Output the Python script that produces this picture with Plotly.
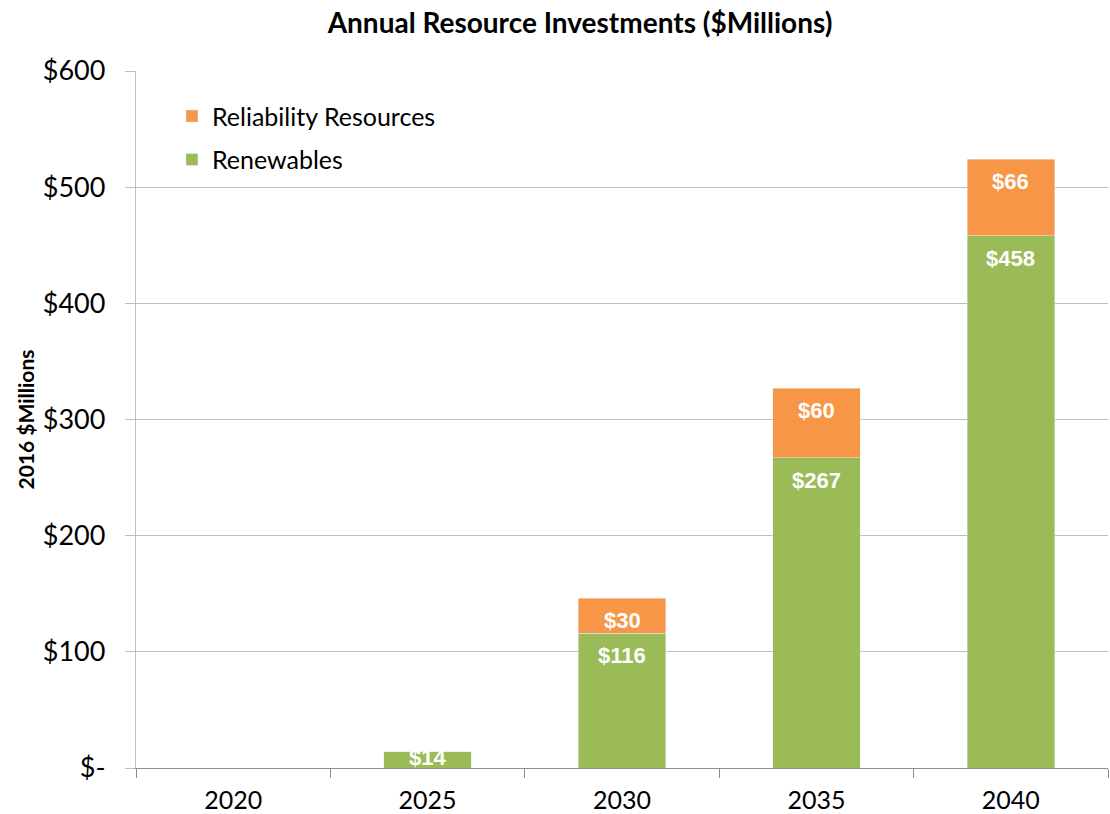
import plotly.graph_objects as go

years = ["2020", "2025", "2030", "2035", "2040"]
renewables = [0, 14, 116, 267, 458]
reliability = [0, 0, 30, 60, 66]

y_tickvals = [0, 100, 200, 300, 400, 500, 600]
y_ticktext = ["$-", "$100", "$200", "$300", "$400", "$500", "$600"]

GREEN = "#9BBB59"
ORANGE = "#F79646"
GRID = "#BFBFBF"
LABEL_FONT = dict(family="Liberation Sans", size=22, color="white", weight="bold")

fig = go.Figure()
fig.add_trace(go.Bar(name="Renewables", x=years, y=renewables,
                     marker_color=GREEN, legendgroup="a", legendrank=2))
fig.add_trace(go.Bar(name="Reliability Resources", x=years, y=reliability,
                     marker_color=ORANGE, legendgroup="b", legendrank=1))

# value labels near the top of each stacked segment (x given as category index)
segments = [(i, 0, r) for i, r in enumerate(renewables)] + \
           [(i, r, s) for i, (r, s) in enumerate(zip(renewables, reliability))]
for idx, base, seg in segments:
    if seg <= 0:
        continue
    top = base + seg
    if seg >= 25:
        fig.add_annotation(x=idx, y=top, text=f"${seg}", showarrow=False,
                           yanchor="top", yshift=-8, font=LABEL_FONT)
    else:
        fig.add_annotation(x=idx, y=base + seg / 2, text=f"${seg}", showarrow=False,
                           yanchor="middle", yshift=2, font=LABEL_FONT)

fig.update_layout(
    width=1110, height=814,
    barmode="stack", bargap=0.55,
    plot_bgcolor="white", paper_bgcolor="white",
    margin=dict(l=136, r=2, t=71, b=46),
    font=dict(family="Lato", color="black"),
    title=dict(text="<b>Annual Resource Investments ($Millions)</b>",
               x=580 / 1110, xanchor="center", y=0.972, yanchor="middle",
               font=dict(size=28, family="Lato")),
    legend=dict(x=0.037, y=0.968, xanchor="left", yanchor="top",
                traceorder="grouped", font=dict(size=25, family="Lato"),
                bgcolor="rgba(0,0,0,0)", tracegroupgap=8, itemwidth=30),
    showlegend=True,
)
fig.update_yaxes(
    range=[0, 600], tickvals=y_tickvals, ticktext=y_ticktext,
    showgrid=True, gridcolor=GRID, gridwidth=1.3,
    showline=True, linecolor=GRID, linewidth=1.3,
    ticks="outside", ticklen=10, tickcolor=GRID, ticklabelstandoff=14,
    tickfont=dict(size=27, family="Lato"), zeroline=False, automargin=False,
    title=dict(text="<b>2016 $Millions</b>", font=dict(size=21, family="Lato"), standoff=2),
)
fig.update_xaxes(
    type="category", range=[-0.5, len(years) - 0.5],
    showline=True, linecolor="#8C8C8C", linewidth=1.3,
    ticks="outside", tickson="boundaries", ticklen=9, tickcolor="#8C8C8C",
    ticklabelstandoff=10, tickangle=0, automargin=False,
    tickfont=dict(size=25, family="Lato"),
)

fig.write_html("out.html")
